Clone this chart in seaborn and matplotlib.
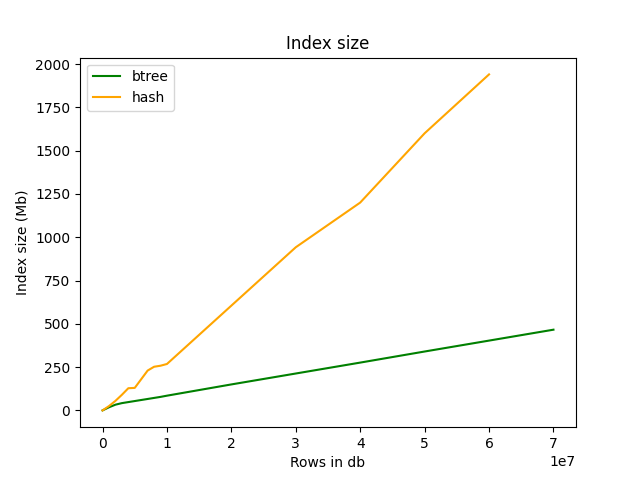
import matplotlib
matplotlib.use("Agg")
import matplotlib.pyplot as plt
import seaborn as sns

# rows in db and index sizes (Mb)
btree_rows = [0, 1e6, 2e6, 3e6, 4e6, 5e6, 6e6, 7e6, 8e6, 9e6, 1e7,
              2e7, 3e7, 4e7, 5e7, 6e7, 7e7]
btree_size = [0, 18, 33, 42, 48, 54, 60, 66, 72, 78, 85,
              150, 213, 276, 340, 403, 466]

hash_rows = [0, 1e6, 2e6, 3e6, 4e6, 5e6, 6e6, 7e6, 8e6, 9e6, 1e7,
             2e7, 3e7, 4e7, 5e7, 6e7]
hash_size = [0, 25, 55, 90, 128, 130, 180, 230, 252, 258, 268,
             605, 942, 1200, 1600, 1940]

fig, ax = plt.subplots(figsize=(6.4, 4.8), dpi=100)

sns.lineplot(x=btree_rows, y=btree_size, ax=ax, color='green', label='btree')
sns.lineplot(x=hash_rows, y=hash_size, ax=ax, color='orange', label='hash')

ax.set_title('Index size')
ax.set_xlabel('Rows in db')
ax.set_ylabel('Index size (Mb)')
ax.legend(loc='upper left')

plt.savefig('out.png')
